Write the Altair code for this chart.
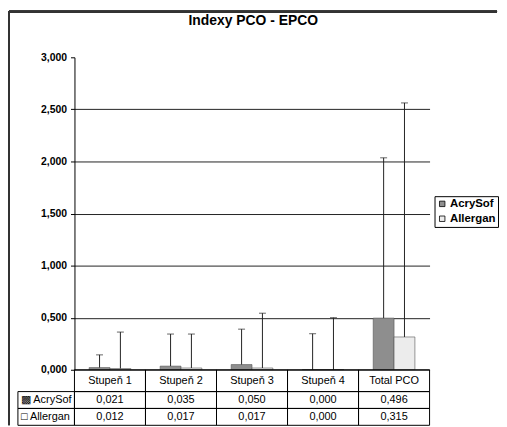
import altair as alt
import pandas as pd

categories = ["Stupeň 1", "Stupeň 2", "Stupeň 3", "Stupeň 4", "Total PCO"]
series = ["AcrySof", "Allergan"]
acrysof_values = [0.021, 0.035, 0.050, 0.000, 0.496]
allergan_values = [0.012, 0.017, 0.017, 0.000, 0.315]
acrysof_err = [0.122, 0.308, 0.340, 0.346, 1.539]
allergan_err = [0.350, 0.326, 0.526, 0.500, 2.247]
row_labels = ["▩ AcrySof", "□ Allergan"]
y_ticks = [0, 0.5, 1.0, 1.5, 2.0, 2.5, 3.0]
title_text = "Indexy PCO - EPCO"
colors = ["#8e8e8e", "#ececec"]

FONT = "Liberation Sans"

rows = []
for s, vals, errs in ((series[0], acrysof_values, acrysof_err),
                      (series[1], allergan_values, allergan_err)):
    for c, v, e in zip(categories, vals, errs):
        rows.append({"cat": c, "series": s, "value": v, "top": v + e})
df = pd.DataFrame(rows)
lab_df = pd.DataFrame({"series": series, "rowlabel": row_labels})
cat_df = pd.DataFrame({"cat": categories})

W = 358
H = 315
HEAD_H = 22
ROWS_H = 34
TOP = -46

x_main = alt.X("cat:N", sort=categories, axis=None,
               scale=alt.Scale(paddingInner=0.413, paddingOuter=0.2065))
x_off = alt.XOffset("series:N", sort=series,
                    scale=alt.Scale(paddingInner=0, paddingOuter=0))
y_scale = alt.Scale(domain=[0, 3], nice=False)

bars = alt.Chart(df).mark_bar(stroke="#555", strokeWidth=0.6).encode(
    x=x_main,
    xOffset=x_off,
    y=alt.Y("value:Q", scale=y_scale, title=None,
            axis=alt.Axis(values=y_ticks,
                          labelExpr="replace(format(datum.value, '.3f'), '.', ',')",
                          labelFont=FONT, labelFontSize=10.5, labelFontWeight="bold",
                          labelColor="black", tickSize=4, tickColor="black",
                          labelPadding=4, domainColor="black",
                          grid=True, gridColor="#222",
                          gridOpacity={"condition": {"test": "datum.value >= 3", "value": 0}, "value": 1})),
    color=alt.Color("series:N", sort=series,
                    scale=alt.Scale(domain=series, range=colors),
                    legend=alt.Legend(title=None, orient="none", legendX=363, legendY=140,
                                      symbolType="square", symbolSize=30,
                                      symbolStrokeColor="black", symbolStrokeWidth=0.8,
                                      labelFont=FONT, labelFontSize=11.5, labelFontWeight="bold",
                                      labelColor="black", labelOffset=2,
                                      strokeColor="black",
                                      fillColor="white", padding=2, rowPadding=2,
                                      cornerRadius=0)),
)

err_rules = alt.Chart(df).mark_rule(color="#222", strokeWidth=1).encode(
    x=x_main, xOffset=x_off,
    y=alt.Y("value:Q", scale=y_scale), y2="top:Q",
)
caps = alt.Chart(df).mark_tick(color="#222", thickness=1, size=7).encode(
    x=x_main, xOffset=x_off,
    y=alt.Y("top:Q", scale=y_scale),
)
border_left = alt.Chart(df).mark_rule(color="#333", strokeWidth=2).encode(
    x=alt.value(-66), y=alt.value(TOP), y2=alt.value(H))
border_top = alt.Chart(df).mark_rule(color="#333", strokeWidth=2).encode(
    x=alt.value(-66), x2=alt.value(426), y=alt.value(TOP))

main = alt.layer(bars, err_rules, caps, border_left, border_top).properties(width=W, height=H)

x_tab = alt.X("cat:N", sort=categories, axis=None,
              scale=alt.Scale(paddingInner=0, paddingOuter=0))

head_cells = alt.Chart(cat_df).mark_rect(fillOpacity=0, stroke="black", strokeWidth=1).encode(
    x=x_tab)
head_text = alt.Chart(cat_df).mark_text(font=FONT, fontSize=11, color="black").encode(
    x=x_tab, text="cat:N")
head_border = alt.Chart(cat_df).mark_rule(color="#333", strokeWidth=2).encode(
    x=alt.value(-66), y=alt.value(0), y2=alt.value(HEAD_H))
header = alt.layer(head_cells, head_text, head_border).properties(width=W, height=HEAD_H)

y_tab = alt.Y("series:N", sort=series, axis=None,
              scale=alt.Scale(paddingInner=0, paddingOuter=0))
data_cells = alt.Chart(df).mark_rect(fillOpacity=0, stroke="black", strokeWidth=1).encode(
    x=x_tab, y=y_tab)
data_text = alt.Chart(df).transform_calculate(
    label="replace(format(datum.value, '.3f'), '.', ',')"
).mark_text(font=FONT, fontSize=11, color="black").encode(
    x=x_tab, y=y_tab, text="label:N")
label_cells = alt.Chart(lab_df).mark_rect(fillOpacity=0, stroke="black", strokeWidth=1).encode(
    x=alt.value(-57), x2=alt.value(0), y=y_tab)
label_text = alt.Chart(lab_df).mark_text(font=FONT, fontSize=11, color="black", align="left").encode(
    x=alt.value(-54), y=y_tab, text="rowlabel:N")
data_border = alt.Chart(lab_df).mark_rule(color="#333", strokeWidth=2).encode(
    x=alt.value(-66), y=alt.value(0), y2=alt.value(ROWS_H))
table = alt.layer(data_cells, data_text, label_cells, label_text, data_border).properties(width=W, height=ROWS_H)

chart = alt.vconcat(main, header, table, spacing=0, bounds="flush").properties(
    title=alt.TitleParams(title_text, font=FONT, fontSize=14, fontWeight="bold",
                          color="black", anchor="middle", offset=-17),
    padding={"left": 0, "top": 1, "right": 0, "bottom": 0},
    background="white",
).configure_view(stroke=None)

chart.save("out.html", embed_options={"renderer": "svg", "actions": False})
